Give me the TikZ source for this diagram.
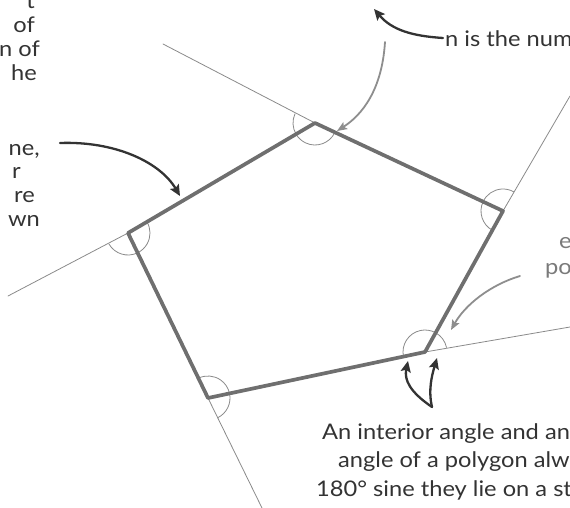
\documentclass[tikz,border=0pt]{standalone}
\usepackage{fontspec}
\setmainfont{Lato}[FakeStretch=1.10]
\usetikzlibrary{arrows.meta}
\definecolor{pgink}{HTML}{333333}
\definecolor{pgedge}{HTML}{6F6F6F}
\definecolor{pgthin}{HTML}{8A8A8A}
\definecolor{pgsoft}{HTML}{8E8E8E}
\definecolor{pgfade}{HTML}{7A7A7A}

\begin{document}
\begin{tikzpicture}[
  x=1pt, y=-1pt,
  font=\fontsize{21.5}{26}\selectfont,
  line cap=round, line join=round,
  side/.style={draw=pgedge, line width=3.7pt},
  ext/.style={draw=pgthin, line width=0.8pt},
  ang/.style={draw=pgthin, line width=0.8pt},
  txt/.style={text=pgink, inner sep=0pt, anchor=base west},
  txtl/.style={text=pgink, inner sep=0pt, anchor=base east},
  ink/.style={draw=pgink, line width=2.3pt, -{Stealth[length=11pt, width=10pt, inset=2pt]}},
  soft/.style={draw=pgsoft, line width=1.8pt, -{Stealth[length=10pt, width=8pt, inset=2pt]}},
]
\useasboundingbox (0,0) rectangle (570,508);
\clip (0,0) rectangle (570,508);

% pentagon corners
\coordinate (A) at (315,123);
\coordinate (B) at (503,211);
\coordinate (C) at (425,352);
\coordinate (D) at (208,398);
\coordinate (E) at (128,233);

% sides produced past each corner
\coordinate (xa) at (163,44);
\coordinate (xb) at (570,96);
\coordinate (xc) at (570,327);
\coordinate (xd) at (262,508);
\coordinate (xe) at (8,296);
\draw[ext] (A) -- (xa);
\draw[ext] (B) -- (xb);
\draw[ext] (C) -- (xc);
\draw[ext] (D) -- (xd);
\draw[ext] (E) -- (xe);

% interior and exterior angle marks
\foreach \v/\a/\b/\c in {A/25.1/149.5/205.1, B/118.9/205.1/298.9, C/168.0/298.9/348.0,
                        D/-115.9/-12.0/64.1, E/-30.5/64.1/149.5} {
  \draw[ang] (\v) ++(\a:22) arc[start angle=\a, end angle=\b, radius=22];
  \draw[ang] (\v) ++(\b:22) arc[start angle=\b, end angle=\c, radius=22];
}

\draw[side] (A) -- (B) -- (C) -- (D) -- (E) -- cycle;

% text, cut by the frame
\node[txtl] (l1) at (35,9) {t};
\node[txtl] (l2) at (35,33) {of};
\node[txtl] (l3) at (40,57) {n of};
\node[txtl] (l4) at (37,81) {he};
\node[txtl] (l5) at (40,155) {ne,};
\node[txtl] (l6) at (21,178) {r};
\node[txtl] (l7) at (35,202) {re};
\node[txtl] (l8) at (40,226) {wn};

\node[txt] (num) at (445,47) {n is the num};
\node[txt, text=pgfade] (r1) at (559,248) {e};
\node[txt, text=pgfade] (r2) at (545,274) {po};

\node[txt] (b1) at (322,439) {An interior angle and an};
\node[txt] (b2) at (338,467) {angle of a polygon alwa};
\node[txt] (b3) at (316,496) {180° sine they lie on a st};

% hand arrows
\coordinate (lt0) at (60,143);  \coordinate (lt1) at (180,196);
\coordinate (tp0) at (443,38);  \coordinate (tp1) at (374,9);
\coordinate (ga0) at (385,42);  \coordinate (ga1) at (337,131);
\coordinate (gc0) at (520,276); \coordinate (gc1) at (451,330);
\coordinate (fk) at (432,407);
\coordinate (fi) at (408,361);  \coordinate (fe) at (437,358);
\draw[ink] (lt0) .. controls (115,141) and (160,162) .. (lt1);
\draw[ink] (tp0) .. controls (412,36) and (392,30) .. (tp1);
\draw[soft] (ga0) .. controls (382,90) and (362,115) .. (ga1);
\draw[soft] (gc0) .. controls (490,285) and (465,305) .. (gc1);
\draw[ink] (fk) .. controls (410,392) and (404,380) .. (fi);
\draw[ink] (fk) .. controls (428,390) and (432,375) .. (fe);
\end{tikzpicture}
\end{document}
